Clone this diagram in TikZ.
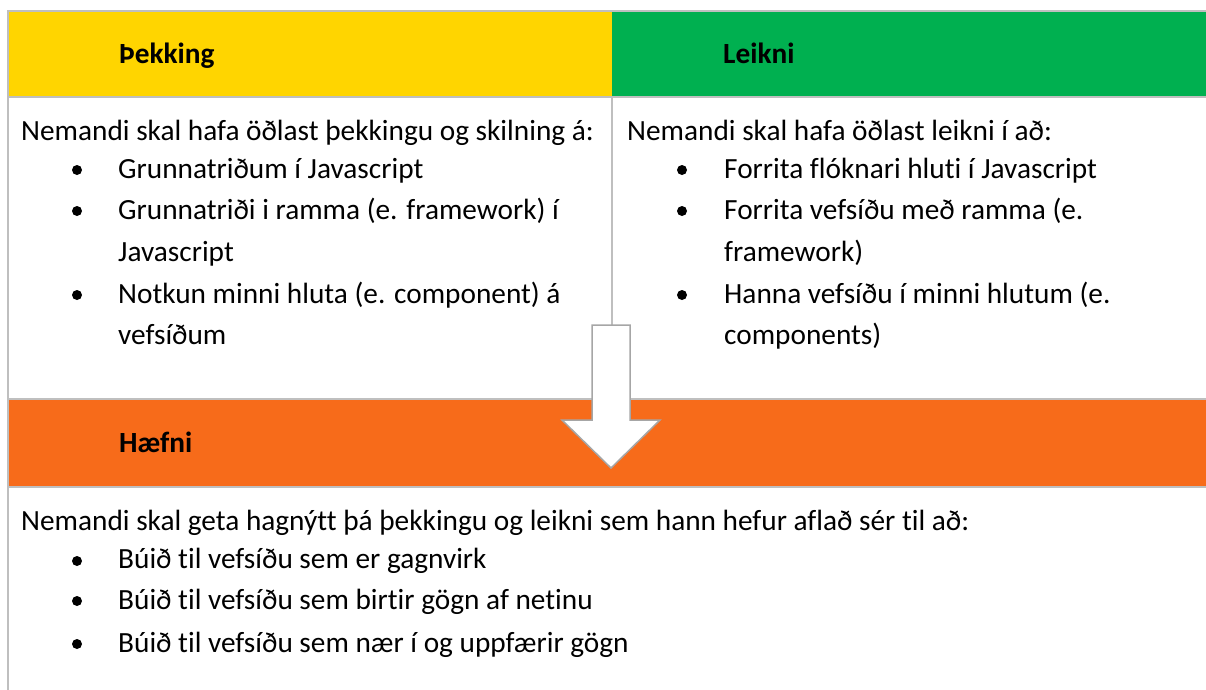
\documentclass[tikz,border=0pt]{standalone}
\usepackage{fontspec}
\setmainfont{Carlito}[Ligatures=NoCommon]
\usetikzlibrary{positioning}
\definecolor{rulegray}{HTML}{BFBFBF}
\definecolor{arrowgray}{HTML}{A6A6A6}
\definecolor{knowyellow}{HTML}{FFD500}
\definecolor{skillgreen}{HTML}{00B050}
\definecolor{comporange}{HTML}{F76B1A}
\tikzset{rule/.style={
            draw=rulegray,
            line width=1.8pt
        },
        head/.style={
            anchor=base west,
            inner sep=0pt,
            font=\fontsize{29.3}{34}\selectfont\bfseries
        },
        txt/.style={
            anchor=base west,
            inner sep=0pt,
            font=\fontsize{29.3}{34}\selectfont
        },
        bul/.style={
            circle,
            fill=black,
            inner sep=0pt,
            minimum size=10pt
        },
        downarrow/.style={
            draw=arrowgray,
            fill=white,
            line width=1.5pt,
            line join=miter
        }
    }
\begin{document}
\begin{tikzpicture}[x=1pt,y=-1pt]
\useasboundingbox (0,0) rectangle (1206,689);
% header and band fills
\fill[knowyellow] (8,11) rectangle (612,97);
\fill[skillgreen] (612,11) rectangle (1206,97);
\fill[comporange] (8,399) rectangle (1206,487);
% table rules
\draw[rule] (1208,11) -- (8,11) -- (8,690);
\draw[rule] (8,97) -- (1208,97);
\draw[rule] (612,97) -- (612,330);
\draw[rule] (8,399) -- (1208,399);
\draw[rule] (8,487) -- (1208,487);
% the arrow from the two upper cells down into the band
\draw[downarrow] (592,325) -- (630,325) -- (630,420) -- (660,420) -- (611,468) -- (562,420) -- (592,420) -- cycle;
% headers
\node[head] (know) at (119,63) {Þekking};
\node[head] (skill) at (723,63) {Leikni};
\node[head] (comp) at (119,452) {Hæfni};
% left cell
\node[txt] (knowintro) at (21,140) {Nemandi skal hafa öðlast þekkingu og skilning á:};
\node[bul] (kb1) at (77,170) {};\node[txt] (k1) at (118,178) {Grunnatriðum í Javascript};
\node[bul] (kb2) at (77,211) {};\node[txt] (k2) at (118,219) {Grunnatriði i ramma (e. framework) í};
\node[txt] (k2b) at (118,261) {Javascript};
\node[bul] (kb3) at (77,295) {};\node[txt] (k3) at (118,303) {Notkun minni hluta (e. component) á};
\node[txt] (k3b) at (118,344) {vefsíðum};
% right cell
\node[txt] (skillintro) at (627,140) {Nemandi skal hafa öðlast leikni í að:};
\node[bul] (sb1) at (682,170) {};\node[txt] (s1) at (724,178) {Forrita flóknari hluti í Javascript};
\node[bul] (sb2) at (682,211) {};\node[txt] (s2) at (724,219) {Forrita vefsíðu með ramma (e.};
\node[txt] (s2b) at (724,261) {framework)};
\node[bul] (sb3) at (682,295) {};\node[txt] (s3) at (724,303) {Hanna vefsíðu í minni hlutum (e.};
\node[txt] (s3b) at (724,344) {components)};
% bottom cell
\node[txt] (compintro) at (21,530) {Nemandi skal geta hagnýtt þá þekkingu og leikni sem hann hefur aflað sér til að:};
\node[bul] (cb1) at (77,561) {};\node[txt] (c1) at (118,568) {Búið til vefsíðu sem er gagnvirk};
\node[bul] (cb2) at (77,601) {};\node[txt] (c2) at (118,609) {Búið til vefsíðu sem birtir gögn af netinu};
\node[bul] (cb3) at (77,644) {};\node[txt] (c3) at (118,652) {Búið til vefsíðu sem nær í og uppfærir gögn};
\end{tikzpicture}
\end{document}
